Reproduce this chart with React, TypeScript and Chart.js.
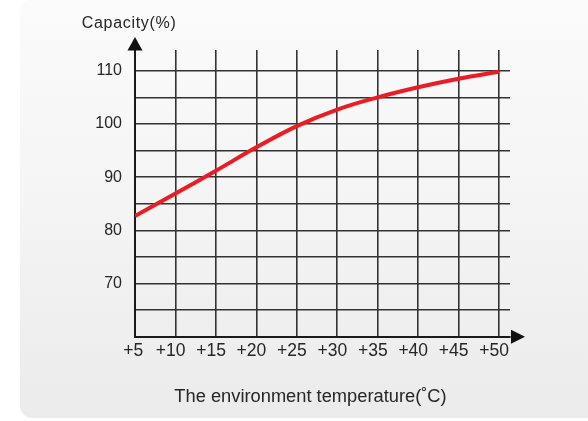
import { useEffect, useRef } from "react";
import { Chart, registerables } from "chart.js";

Chart.register(...registerables);

const temperatures = [5, 10, 15, 20, 25, 30, 35, 40, 45, 50];
const capacity = [82.7, 86.9, 91.2, 95.6, 99.6, 102.7, 105, 106.9, 108.5, 109.8];
const yGridValues = [60, 65, 70, 75, 80, 85, 90, 95, 100, 105, 110];
const yLabelValues = [70, 80, 90, 100, 110];
const xTickLabels = ["+5", "+10", "+15", "+20", "+25", "+30", "+35", "+40", "+45", "+50"];
const yAxisTitle = "Capacity(%)";
const xAxisTitle = "The environment temperature(\u02DAC)";

const FONT = '"Liberation Sans", Arial, sans-serif';

const decorPlugin = {
  id: "decor",
  afterDraw(chart: any) {
    const { ctx, chartArea } = chart;
    const { left, top, right, bottom } = chartArea;
    ctx.save();
    ctx.fillStyle = "#111";
    // y arrow
    ctx.beginPath();
    ctx.moveTo(left, top - 13);
    ctx.lineTo(left - 7.5, top + 0.5);
    ctx.lineTo(left + 7.5, top + 0.5);
    ctx.closePath();
    ctx.fill();
    // x arrow
    ctx.beginPath();
    ctx.moveTo(right + 15, bottom);
    ctx.lineTo(right + 1, bottom - 7);
    ctx.lineTo(right + 1, bottom + 7);
    ctx.closePath();
    ctx.fill();
    // titles
    ctx.fillStyle = "#262626";
    ctx.textBaseline = "alphabetic";
    ctx.textAlign = "left";
    ctx.font = "16px " + FONT;
    try { (ctx as any).letterSpacing = "0.7px"; } catch (e) {}
    ctx.fillText(yAxisTitle, left - 53.3, top - 22.3);
    try { (ctx as any).letterSpacing = "0px"; } catch (e) {}
    ctx.font = "18.3px " + FONT;
    ctx.textAlign = "center";
    ctx.fillText(xAxisTitle, 310.5, 401.7);
    ctx.restore();
  },
};

export default function App() {
  const canvasRef = useRef<HTMLCanvasElement | null>(null);

  useEffect(() => {
    const canvas = canvasRef.current;
    if (!canvas) return;
    const chart = new Chart(canvas, {
      type: "line",
      data: {
        datasets: [
          {
            data: temperatures.map((t, i) => ({ x: t, y: capacity[i] })),
            borderColor: "#ec1c24",
            borderWidth: 4,
            pointRadius: 0,
            fill: false,
            tension: 0.4,
          },
        ],
      },
      options: {
        animation: false,
        responsive: false,
        maintainAspectRatio: false,
        layout: { padding: { left: 0, top: 50, right: 78, bottom: 0 } },
        plugins: {
          legend: { display: false },
          tooltip: { enabled: false },
          title: { display: false },
        },
        scales: {
          x: {
            type: "linear",
            min: 5,
            max: 51.36,
            afterBuildTicks: (scale: any) => {
              scale.ticks = temperatures.map((v) => ({ value: v }));
            },
            afterFit: (scale: any) => {
              scale.height = 84.3;
            },
            ticks: {
              autoSkip: false,
              maxRotation: 0,
              padding: 4,
              color: "#262626",
              font: { family: FONT, size: 17.5 },
              callback: (v: any) => {
                const i = temperatures.indexOf(Number(v));
                if (i < 0) return "";
                const lab = xTickLabels[i];
                // keep the number centred on its grid line, the "+" hanging left
                return lab + (lab.length > 2 ? "\u2007" : "\u2009");
              },
            },
            grid: {
              color: "#333",
              lineWidth: 1.6,
              drawTicks: false,
            },
            border: { display: true, color: "#1a1a1a", width: 2 },
          },
          y: {
            type: "linear",
            min: 60,
            max: 113.9,
            afterBuildTicks: (scale: any) => {
              scale.ticks = yGridValues.map((v) => ({ value: v }));
            },
            afterFit: (scale: any) => {
              scale.width = 135;
            },
            ticks: {
              autoSkip: false,
              padding: 13,
              color: "#262626",
              font: { family: FONT, size: 16 },
              callback: (v: any) => (yLabelValues.includes(Number(v)) ? String(v) : ""),
            },
            grid: {
              color: "#333",
              lineWidth: 1.6,
              drawTicks: false,
            },
            border: { display: true, color: "#1a1a1a", width: 2 },
          },
        },
      },
      plugins: [decorPlugin],
    } as any);
    return () => chart.destroy();
  }, []);

  return (
    <div style={{ position: "fixed", left: 0, top: 0, width: 588, height: 421, background: "#fff", overflow: "hidden" }}>
      <div
        style={{
          position: "absolute",
          left: 20,
          top: -1,
          width: 600,
          height: 419,
          borderRadius: 12,
          background: "linear-gradient(to bottom, #fbfbfb 0%, #f4f4f4 50%, #ebebec 100%)",
        }}
      />
      <canvas ref={canvasRef} width={588} height={421} style={{ position: "absolute", left: 0, top: 0, width: 588, height: 421 }} />
    </div>
  );
}
